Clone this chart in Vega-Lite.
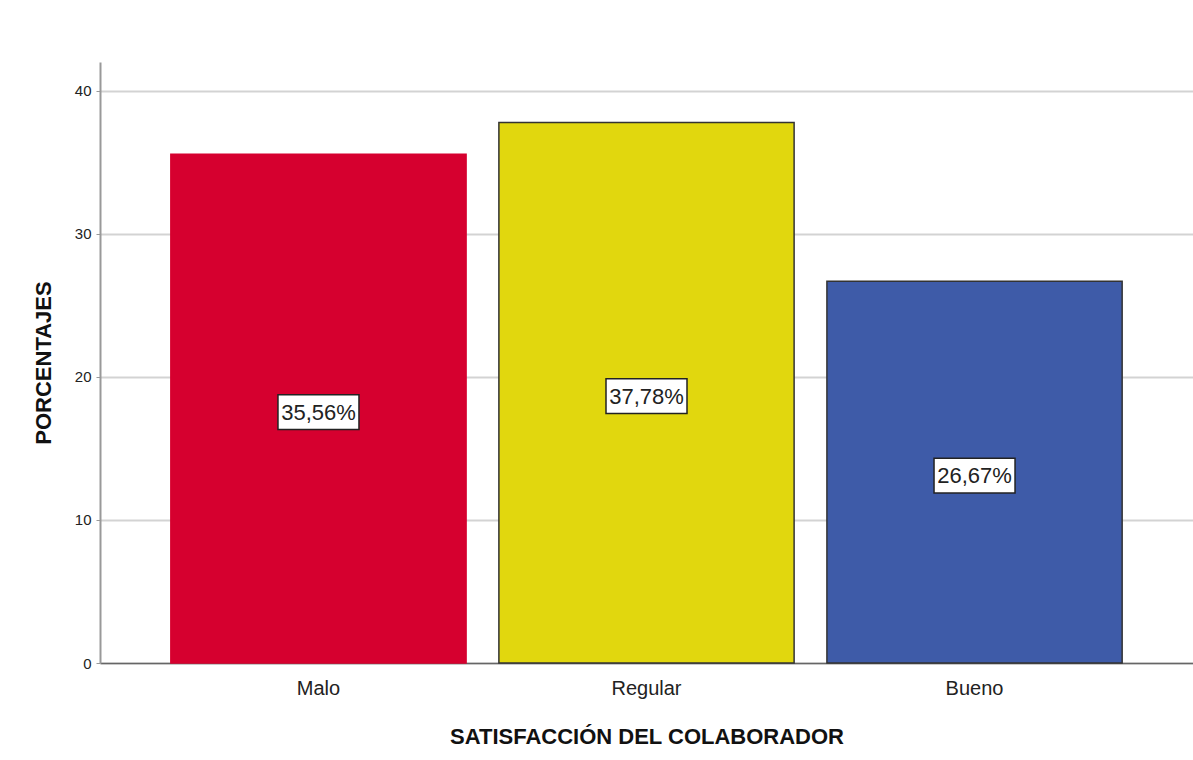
{
  "$schema": "https://vega.github.io/schema/vega-lite/v6.json",
  "width": 1093,
  "height": 601,
  "autosize": {"type": "none"},
  "padding": {"left": 100, "top": 62, "right": 0, "bottom": 97},
  "background": "white",
  "config": {
    "view": {"stroke": null},
    "font": "Liberation Sans",
    "axis": {"labelFont": "Liberation Sans", "titleFont": "Liberation Sans"}
  },
  "data": {
    "values": [
      {"categoria": "Malo", "porcentaje": 35.56, "etiqueta": "35,56%"},
      {"categoria": "Regular", "porcentaje": 37.78, "etiqueta": "37,78%"},
      {"categoria": "Bueno", "porcentaje": 26.67, "etiqueta": "26,67%"}
    ]
  },
  "layer": [
    {
      "mark": {"type": "bar", "strokeWidth": 1.5},
      "encoding": {
        "x": {
          "field": "categoria",
          "type": "nominal",
          "sort": ["Malo", "Regular", "Bueno"],
          "scale": {"paddingInner": 0.1, "paddingOuter": 0.216},
          "axis": {
            "title": "SATISFACCIÓN DEL COLABORADOR",
            "labelAngle": 0,
            "labelFontSize": 20,
            "labelColor": "#222222",
            "ticks": false,
            "labelPadding": 15,
            "domainColor": "#666666",
            "domainWidth": 1.5,
            "titleFontSize": 22,
            "titleFontWeight": "bold",
            "titleColor": "#111111",
            "titlePadding": 28
          }
        },
        "y": {
          "field": "porcentaje",
          "type": "quantitative",
          "scale": {"domain": [0, 42], "nice": false},
          "axis": {
            "title": "PORCENTAJES",
            "values": [0, 10, 20, 30, 40],
            "grid": true,
            "gridColor": "#d3d3d3",
            "gridWidth": 2,
            "domainColor": "#999999",
            "domainWidth": 2,
            "tickSize": 4,
            "tickColor": "#999999",
            "labelFontSize": 15,
            "labelColor": "#222222",
            "labelPadding": 5,
            "titleFontSize": 22,
            "titleFontWeight": "bold",
            "titleColor": "#111111",
            "titlePadding": 19
          }
        },
        "color": {
          "field": "categoria",
          "type": "nominal",
          "scale": {"domain": ["Malo", "Regular", "Bueno"], "range": ["#d6002f", "#e1d70e", "#3e5ba8"]},
          "legend": null
        },
        "stroke": {
          "field": "categoria",
          "type": "nominal",
          "scale": {"domain": ["Malo", "Regular", "Bueno"], "range": ["#d6002f", "#333333", "#333333"]},
          "legend": null
        }
      }
    },
    {
      "layer": [
        {
          "mark": {
            "type": "point",
            "shape": "M-1,-0.43H1V0.43H-1Z",
            "size": 6561,
            "filled": true,
            "fill": "white",
            "stroke": "#222222",
            "strokeWidth": 1.5,
            "opacity": 1,
            "yOffset": 3.5
          },
          "encoding": {
            "x": {"field": "categoria", "type": "nominal", "sort": ["Malo", "Regular", "Bueno"]},
            "y": {"field": "porcentaje", "type": "quantitative", "scale": {"domain": [0, 84], "nice": false}, "axis": null}
          }
        },
        {
          "mark": {"type": "text", "fontSize": 22, "color": "#222222", "baseline": "middle", "align": "center", "yOffset": 4},
          "encoding": {
            "x": {"field": "categoria", "type": "nominal", "sort": ["Malo", "Regular", "Bueno"]},
            "y": {"field": "porcentaje", "type": "quantitative", "scale": {"domain": [0, 84], "nice": false}, "axis": null},
            "text": {"field": "etiqueta"}
          }
        }
      ]
    }
  ],
  "resolve": {"scale": {"y": "independent", "color": "independent", "stroke": "independent"}}
}
